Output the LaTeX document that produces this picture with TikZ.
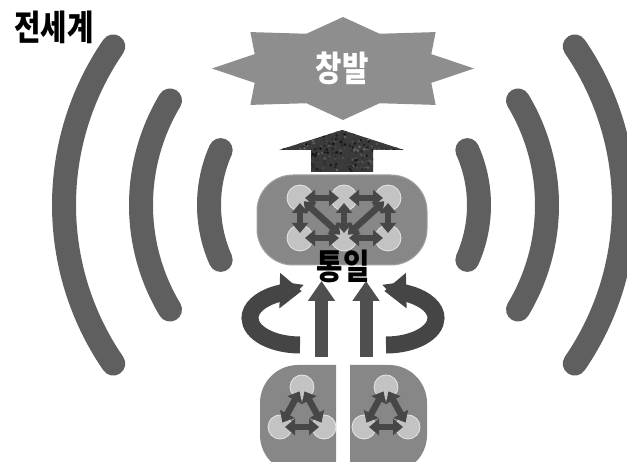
\documentclass[tikz,border=0pt]{standalone}
\usepackage{fontspec}
\newfontfamily\hangul{Noto Sans CJK KR}
\usetikzlibrary{arrows.meta,positioning}
\definecolor{wavegray}{HTML}{5F5F5F}
\definecolor{stargray}{HTML}{8E8E8E}
\definecolor{boxgray}{HTML}{878787}
\definecolor{boxedge}{HTML}{A2A2A2}
\definecolor{dotgray}{HTML}{C3C3C3}
\definecolor{dotedge}{HTML}{E6E6E6}
\definecolor{linkgray}{HTML}{474747}
\definecolor{risegray}{HTML}{4F4F4F}
\definecolor{swirlgray}{HTML}{454545}
\definecolor{rockgray}{HTML}{3A3A3A}
\newcommand{\squeeze}[1]{\scalebox{0.82}[1]{#1}}

\begin{document}
\begin{tikzpicture}[x=1pt,y=1pt,>={Triangle[width=16pt,length=10pt]}]
    \tikzstyle{wave}=[wavegray,line width=24pt,line cap=round]
    \tikzstyle{dot}=[circle,fill=dotgray,draw=dotedge,line width=0.8pt,minimum size=26pt,inner sep=0pt]
    \tikzstyle{small dot}=[dot,minimum size=24pt]
    \tikzstyle{link}=[<->,linkgray,line width=6.5pt,shorten <=5pt,shorten >=5pt]
    \tikzstyle{word}=[font=\hangul\bfseries\fontsize{35}{37}\selectfont,inner sep=0pt]
    \tikzstyle{rise}=[risegray,line width=13pt,-{Triangle[width=26pt,length=20pt]}]
    \tikzstyle{swirl}=[swirlgray,line width=17pt,-{Triangle[width=34pt,length=22pt]}]

    \useasboundingbox (0,0) rectangle (627,461);

    % Waves on both sides
    \foreach \r/\a in {280/34.5,203/31,135/24}{
        \draw[wave] (344,256) ++({180-\a}:\r) arc[start angle={180-\a},end angle={180+\a},radius=\r];
        \draw[wave] (344,256) ++({-\a}:\r) arc[start angle={-\a},end angle=\a,radius=\r];
    }
    \node (world)[word] at (54,434) {\squeeze{전세계}};

    % Star on top
    \begin{scope}[shift={(343,392.5)}]
        \fill[stargray] (0:131 and 51.5)
            \foreach \i in {0,...,7}{ -- ({\i*45+22.5}:95.6 and 37.6) -- ({\i*45+45}:131 and 51.5) } -- cycle;
    \end{scope}
    \node (emergence)[word,text=white] at (342,393) {\squeeze{창발}};

    % Rock arrow
    \begin{scope}
        \clip (311,289) -- (311,311) -- (279,311) -- (342,331) -- (404,311) -- (373,311) -- (373,289) -- cycle;
        \fill[rockgray] (279,289) rectangle (404,331);
        \pgfmathsetseed{17}
        \foreach \k in {1,...,400}{
            \pgfmathsetmacro\g{int(60+35*rnd)}
            \fill[black!\g] ({342+62*rand},{310+21*rand}) circle (1.4);
        }
    \end{scope}

    % Middle box
    \node (merge)[fill=boxgray,draw=boxedge,line width=1pt,rounded corners=36pt,
        minimum width=170pt,minimum height=90pt] at (342,241) {};
    \foreach \c/\x in {1/300,2/344,3/388}{
        \node (t\c)[dot] at (\x,263) {};
        \node (b\c)[dot] at (\x,223) {};
    }
    \draw[link] (t1.center) -- (t2.center);
    \draw[link] (t2.center) -- (t3.center);
    \draw[link] (b1.center) -- (b2.center);
    \draw[link] (b2.center) -- (b3.center);
    \foreach \c in {1,2,3}
        \draw[link] (t\c.center) -- (b\c.center);
    \draw[link] (t1.center) -- (b2.center);
    \draw[link] (t3.center) -- (b2.center);
    \node (unity)[word] at (343,195) {\squeeze{통일}};

    % Swirls and rising arrows
    \draw[swirl] (300,116) arc[start angle=270,end angle=88,x radius=50,y radius=27];
    \draw[swirl] (386,116) arc[start angle=-90,end angle=92,x radius=50,y radius=27];
    \coordinate (lfoot) at (321.5,104);
    \coordinate (lhead) at (321.5,180);
    \coordinate (rfoot) at (366,104);
    \coordinate (rhead) at (366,180);
    \draw[rise] (lfoot) -- (lhead);
    \draw[rise] (rfoot) -- (rhead);

    % Bottom halves
    \fill[boxgray] (336,96) -- (298,96) arc[start angle=90,end angle=180,radius=38]
        -- (260,26) arc[start angle=180,end angle=270,radius=38] -- (336,-12) -- cycle;
    \fill[boxgray] (350,96) -- (389,96) arc[start angle=90,end angle=0,radius=38]
        -- (427,26) arc[start angle=0,end angle=-90,radius=38] -- (350,-12) -- cycle;

    % Triangles of dots
    \foreach \s/\x in {l/302,r/386}{
        \node (\s top)[small dot] at (\x,74) {};
        \node (\s left)[small dot] at (\x-22,34) {};
        \node (\s right)[small dot] at (\x+22,34) {};
        \draw[link] (\s top.center) -- (\s left.center);
        \draw[link] (\s top.center) -- (\s right.center);
        \draw[link] (\s left.center) -- (\s right.center);
    }
\end{tikzpicture}
\end{document}
